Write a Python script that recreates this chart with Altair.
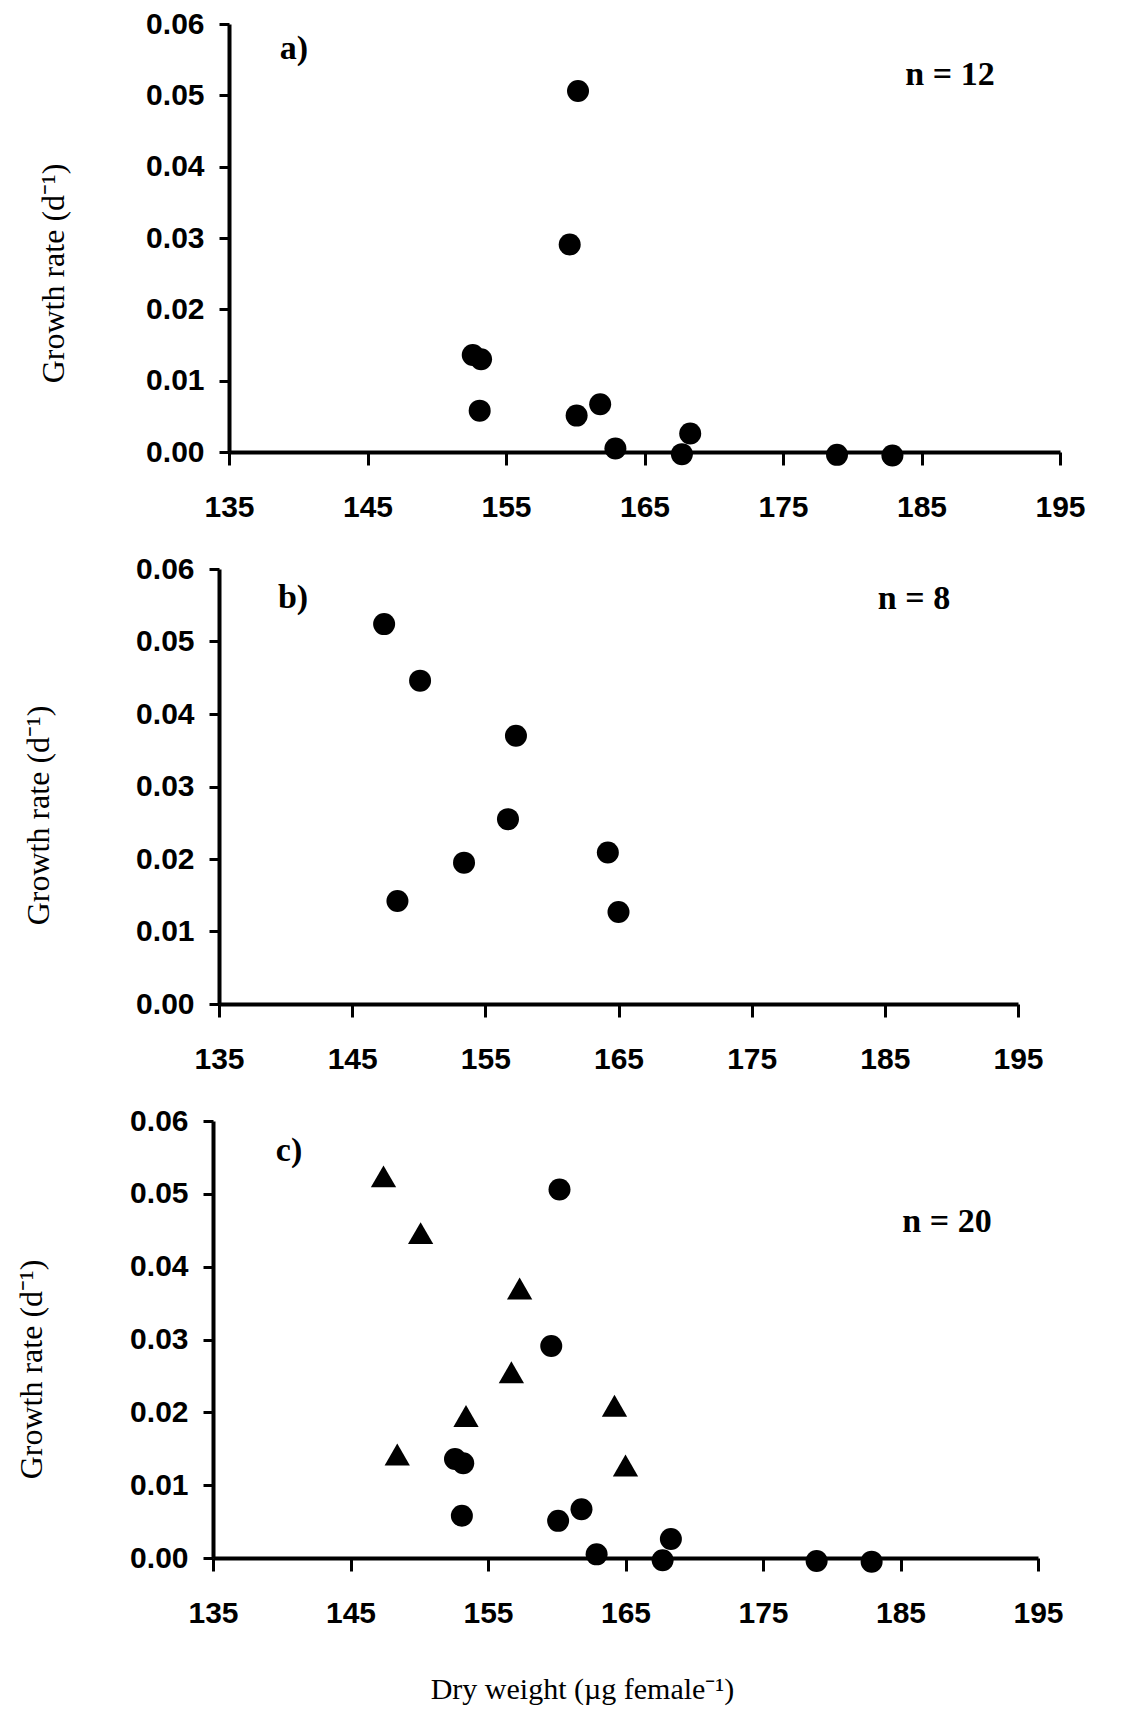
import altair as alt
import pandas as pd

# ---- values ----
# Panel a (circles): dry weight (µg female-1) and growth rate (d-1)
a_weight = [160.2, 159.6, 152.6, 153.2, 153.1, 160.1, 161.8, 162.9, 167.7, 168.3, 178.9, 182.9]
a_rate = [0.0506, 0.0291, 0.0136, 0.0130, 0.0058, 0.0051, 0.0067, 0.0005, -0.0003, 0.0026, -0.0004, -0.0005]
# Panel b (shown as circles in b, as triangles in c)
b_weight = [147.4, 150.1, 157.3, 156.7, 153.4, 148.4, 164.2, 165.0]
b_rate = [0.0524, 0.0446, 0.0370, 0.0255, 0.0195, 0.0142, 0.0209, 0.0127]

x_ticks = [135, 145, 155, 165, 175, 185, 195]
y_ticks = [0.00, 0.01, 0.02, 0.03, 0.04, 0.05, 0.06]
panel_labels = ["a)", "b)", "c)"]
n_labels = ["n = 12", "n = 8", "n = 20"]
y_title = "Growth rate (d⁻¹)"
x_title = "Dry weight (µg female⁻¹)"

SANS = "Liberation Sans"
SERIF = "Liberation Serif"

df_a = pd.DataFrame({"weight": a_weight, "rate": a_rate})
df_b = pd.DataFrame({"weight": b_weight, "rate": b_rate})


def panel(circ, tri, width, height, shift, label, label_xy, ntext, n_xy,
          ytitle_x, ytitle_y, show_xtitle):
    xs = alt.Scale(domain=[135, 195], range=[shift, width], nice=False, zero=False)
    ys = alt.Scale(domain=[0, 0.06], nice=False, zero=False)
    xkw = dict(values=x_ticks, format="d", grid=False, tickSize=13, tickWidth=3,
               domainWidth=4, labelPadding=27, labelFont=SANS, labelFontSize=30,
               labelFontWeight="bold", labelColor="black", domainColor="black",
               tickColor="black", labelFlush=False, labelOverlap=False)
    if show_xtitle:
        xkw.update(title=x_title, titleFont=SERIF, titleFontSize=30,
                   titleFontWeight="normal", titleColor="black", titleX=369,
                   titleY=140, titleBaseline="alphabetic")
    xaxis = alt.Axis(**xkw)
    yaxis = alt.Axis(values=y_ticks, format=".2f", grid=False, tickSize=10, tickWidth=3,
                     domainWidth=4, labelPadding=15, labelFont=SANS, labelFontSize=30,
                     labelFontWeight="bold", labelColor="black", domainColor="black",
                     tickColor="black", offset=-shift, title=y_title, titleFont=SERIF,
                     titleFontSize=32, titleFontWeight="normal", titleColor="black",
                     titleX=ytitle_x, titleY=ytitle_y, titleBaseline="alphabetic")
    if show_xtitle:
        xenc = alt.X("weight:Q", scale=xs, axis=xaxis)
    else:
        xenc = alt.X("weight:Q", scale=xs, axis=xaxis, title=None)
    yenc = alt.Y("rate:Q", scale=ys, axis=yaxis)

    layers = [
        alt.Chart(circ).mark_point(shape="circle", filled=True, size=484,
                                   color="black", opacity=1).encode(x=xenc, y=yenc)
    ]
    if tri is not None:
        layers.append(
            alt.Chart(tri).mark_point(shape="triangle-up", filled=True, size=640,
                                      color="black", opacity=1).encode(x=xenc, y=yenc)
        )
    layers.append(
        alt.Chart(pd.DataFrame({"t": [label]})).mark_text(
            font=SERIF, fontSize=34, fontWeight="bold", color="black",
            align="center", baseline="middle"
        ).encode(x=alt.value(label_xy[0]), y=alt.value(label_xy[1]), text="t:N")
    )
    layers.append(
        alt.Chart(pd.DataFrame({"t": [ntext]})).mark_text(
            font=SERIF, fontSize=34, fontWeight="bold", color="black",
            align="center", baseline="middle"
        ).encode(x=alt.value(n_xy[0]), y=alt.value(n_xy[1]), text="t:N")
    )
    return alt.layer(*layers).properties(width=width, height=height)


pa = panel(df_a, None, 847, 428, 16, panel_labels[0], (81, 25), n_labels[0], (737, 51),
           -166, 249, False)
pb = panel(df_b, None, 805, 435, 6, panel_labels[1], (80, 29), n_labels[1], (701, 30),
           -171, 246, False)
pc = panel(df_a, df_b, 825, 437, 0, panel_labels[2], (76, 30), n_labels[2], (734, 101),
           -172, 248, True)

chart = alt.vconcat(pa, pb, pc, spacing=32).properties(
    padding={"left": 6, "top": 1, "right": 5, "bottom": 4},
    background="white",
).configure_view(strokeWidth=0)

chart.save("out.html", embed_options={"renderer": "svg", "actions": False})
